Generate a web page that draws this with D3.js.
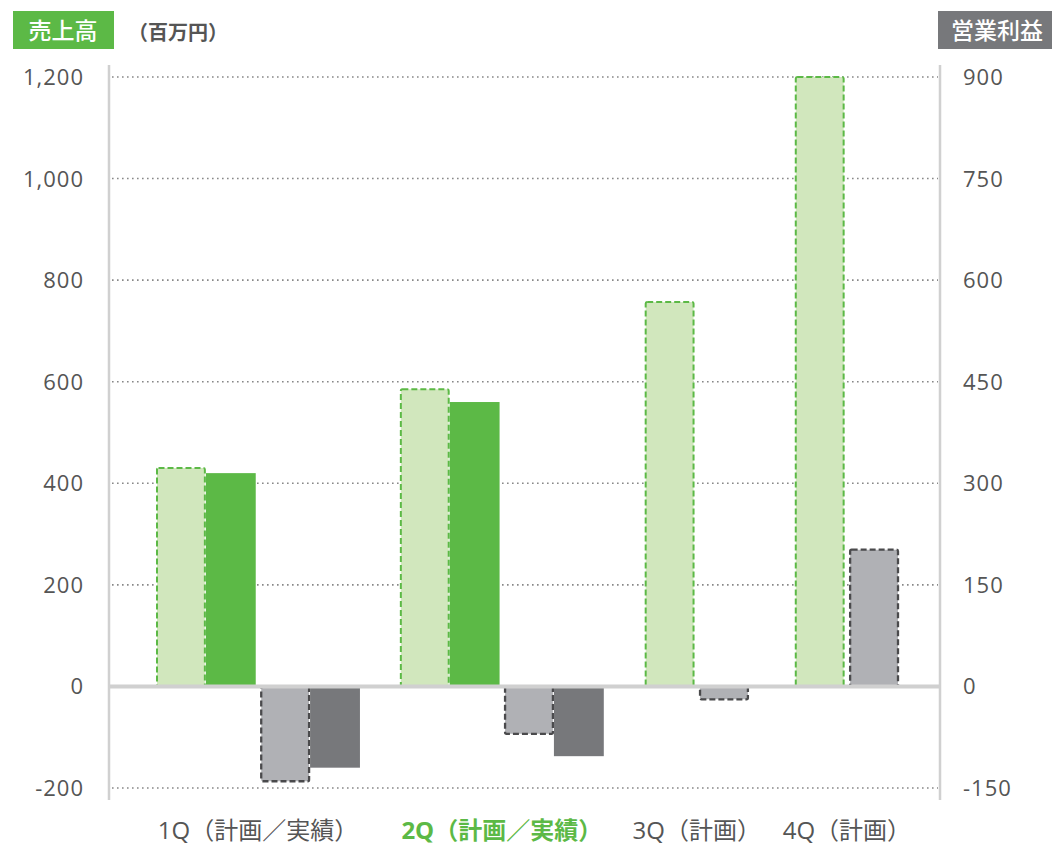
<!DOCTYPE html>
<html lang="ja">
<head>
    <meta charset="UTF-8">
    <script src="https://d3js.org/d3.v7.min.js"></script>
    <title>売上高・営業利益</title>
    <style>
        html, body {
            margin: 0;
            padding: 0;
            background-color: #fff;
            font-family: "Open Sans", "Noto Sans CJK JP", sans-serif;
            color: #555;
        }
    </style>
</head>
<body>
    <div id="chart"></div>
    <script>
        // data
        const quarters = ["1Q", "2Q", "3Q", "4Q"];
        const quarterLabels = ["1Q（計画／実績）", "2Q（計画／実績）", "3Q（計画）", "4Q（計画）"];
        const salesPlan = [430, 585, 757, 1200];
        const salesActual = [420, 560, null, null];
        const profitPlan = [-140, -70, -19, 202];
        const profitActual = [-120, -103, null, null];
        const leftTicks = [-200, 0, 200, 400, 600, 800, 1000, 1200];
        const rightTicks = [-150, 0, 150, 300, 450, 600, 750, 900];
        const currentQuarter = "2Q";

        const width = 1052, height = 847;
        const green = "#5cb946", lightGreen = "#d1e7bd";
        const gray = "#77787b", lightGray = "#b0b1b5", darkStroke = "#4a4a4c";
        const textColor = "#555";

        const svg = d3.select("#chart").append("svg")
            .attr("width", width).attr("height", height);

        const left = 110, right = 940;
        const ySales = d3.scaleLinear().domain([-200, 1200]).range([788, 77]);
        const yProfit = d3.scaleLinear().domain([-150, 900]).range([788, 77]);

        // bar layout in "bar width" units
        const pairGap = 0.09;
        const groupGaps = [0.8, 0.82, 0.92];
        let bars = [];
        let groups = [];
        let u = 0;
        quarters.forEach((q, i) => {
            const start = u;
            bars.push({q: q, kind: "salesPlan", v: salesPlan[i], x0: u}); u += 1;
            if (salesActual[i] != null) { bars.push({q: q, kind: "salesActual", v: salesActual[i], x0: u}); u += 1; }
            u += pairGap;
            bars.push({q: q, kind: "profitPlan", v: profitPlan[i], x0: u}); u += 1;
            if (profitActual[i] != null) { bars.push({q: q, kind: "profitActual", v: profitActual[i], x0: u}); u += 1; }
            groups.push({q: q, label: quarterLabels[i], mid: (start + u) / 2});
            if (i < groupGaps.length) u += groupGaps[i];
        });
        const x = d3.scaleLinear().domain([0, u]).range([156, 899]);

        // grid
        svg.append("g").selectAll("line")
            .data(leftTicks.filter(d => d !== 0))
            .join("line")
            .attr("x1", left + 2).attr("x2", right - 2)
            .attr("y1", d => ySales(d)).attr("y2", d => ySales(d))
            .attr("stroke", "#888").attr("stroke-width", 1.6)
            .attr("stroke-dasharray", "1.6,3.4");

        // axis lines
        [left - 1, right].forEach(ax => {
            svg.append("line")
                .attr("x1", ax).attr("x2", ax)
                .attr("y1", 65).attr("y2", 800)
                .attr("stroke", "#d0d0d0").attr("stroke-width", 2.5);
        });

        const styles = {
            salesPlan: {fill: lightGreen, stroke: green, dash: "6,3", y: ySales},
            salesActual: {fill: green, stroke: "none", dash: null, y: ySales},
            profitPlan: {fill: lightGray, stroke: darkStroke, dash: "6,3", y: yProfit},
            profitActual: {fill: gray, stroke: "none", dash: null, y: yProfit}
        };

        svg.append("g").selectAll("rect")
            .data(bars)
            .join("rect")
            .attr("x", d => x(d.x0) + (styles[d.kind].dash ? 1 : 0))
            .attr("width", d => x(d.x0 + 1) - x(d.x0) - (styles[d.kind].dash ? 2 : 0))
            .attr("y", d => {
                const s = styles[d.kind].y;
                return d.v >= 0 ? s(d.v) : s(0);
            })
            .attr("height", d => {
                const s = styles[d.kind].y;
                return Math.abs(s(d.v) - s(0));
            })
            .attr("fill", d => styles[d.kind].fill)
            .attr("stroke", d => styles[d.kind].stroke)
            .attr("stroke-width", d => d.kind === "profitPlan" ? 2.3 : 2)
            .attr("stroke-dasharray", d => styles[d.kind].dash)
            .attr("rx", d => styles[d.kind].dash ? 1.5 : 0);

        // zero line
        svg.append("line")
            .attr("x1", left).attr("x2", right)
            .attr("y1", ySales(0)).attr("y2", ySales(0))
            .attr("stroke", "#d0d0d0").attr("stroke-width", 4);

        const fmt = d => d3.format(",")(d).replace("−", "-");

        // left tick labels
        svg.append("g").selectAll("text")
            .data(leftTicks)
            .join("text")
            .attr("x", 84).attr("y", d => ySales(d) + 8)
            .attr("text-anchor", "end")
            .attr("font-size", 22).attr("letter-spacing", 1).attr("fill", textColor)
            .text(fmt);

        // right tick labels
        svg.append("g").selectAll("text")
            .data(rightTicks)
            .join("text")
            .attr("x", 963).attr("y", d => yProfit(d) + 8)
            .attr("text-anchor", "start")
            .attr("font-size", 22).attr("letter-spacing", 1).attr("fill", textColor)
            .text(fmt);

        // category labels
        svg.append("g").selectAll("text")
            .data(groups)
            .join("text")
            .attr("x", d => x(d.mid)).attr("y", 839)
            .attr("text-anchor", "middle")
            .attr("font-size", 24)
            .attr("font-weight", d => d.q === currentQuarter ? "bold" : "normal")
            .attr("fill", d => d.q === currentQuarter ? green : textColor)
            .text(d => d.label);

        // header boxes
        svg.append("rect").attr("x", 13).attr("y", 11).attr("width", 101).attr("height", 38).attr("fill", green);
        svg.append("text").attr("x", 63).attr("y", 39).attr("text-anchor", "middle")
            .attr("font-size", 23).attr("font-weight", 500).attr("fill", "#fff").text("売上高");
        svg.append("text").attr("x", 128).attr("y", 40)
            .attr("font-size", 20).attr("font-weight", "bold").attr("fill", textColor).text("（百万円）");

        svg.append("rect").attr("x", 938).attr("y", 11).attr("width", 114).attr("height", 38).attr("fill", gray);
        svg.append("text").attr("x", 997).attr("y", 39).attr("text-anchor", "middle")
            .attr("font-size", 23).attr("font-weight", 500).attr("fill", "#fff").text("営業利益");
    </script>
</body>
</html>
